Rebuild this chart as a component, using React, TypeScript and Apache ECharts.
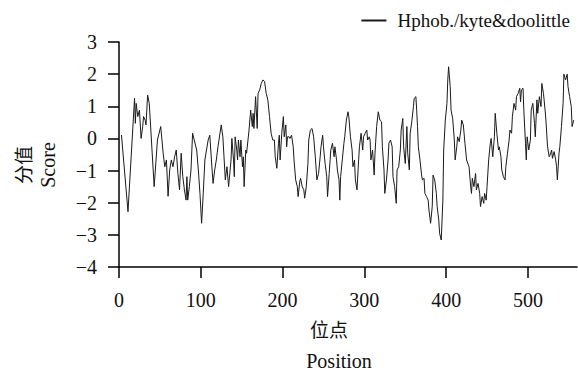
import React, { useEffect, useRef } from "react";
import * as echarts from "echarts";

// Position (residue index) and hydrophobicity score
const positions = [
  3, 11, 19, 20, 21, 23, 25, 27, 29, 30, 32, 33, 35, 37, 43, 47, 51, 54, 56, 58,
  60, 62, 64, 66, 68, 70, 72, 74, 76, 78, 80, 82, 83, 84, 86, 88, 90, 92, 95, 97,
  99, 101, 103, 105, 107, 109, 111, 113, 115, 117, 119, 121, 125, 127, 130, 132, 134, 137, 138, 140,
  141, 142, 144, 145, 146, 148, 149, 151, 152, 153, 155, 156, 159, 161, 163, 164, 165, 167, 169, 170,
  172, 174, 176, 178, 180, 182, 184, 186, 188, 190, 191, 193, 195, 196, 197, 199, 201, 202, 204, 205,
  206, 208, 209, 211, 213, 214, 216, 218, 219, 221, 222, 224, 226, 227, 229, 231, 232, 234, 236, 238,
  240, 242, 244, 246, 247, 249, 250, 252, 254, 255, 257, 259, 261, 263, 264, 266, 267, 269, 270, 271,
  273, 275, 276, 278, 280, 281, 283, 285, 286, 288, 289, 291, 293, 294, 296, 298, 299, 301, 303, 304,
  306, 307, 308, 310, 312, 313, 315, 317, 319, 321, 322, 324, 325, 327, 329, 330, 332, 334, 335, 337,
  339, 340, 342, 344, 345, 347, 348, 350, 352, 353, 355, 356, 358, 360, 361, 363, 364, 365, 366, 368,
  370, 371, 373, 374, 376, 378, 379, 381, 383, 384, 386, 388, 389, 391, 392, 394, 396, 397, 399, 401,
  402, 403, 405, 406, 408, 410, 411, 413, 414, 416, 418, 419, 421, 423, 425, 428, 430, 431, 432, 434,
  436, 437, 439, 441, 442, 444, 446, 447, 449, 450, 452, 454, 455, 457, 459, 460, 462, 464, 465, 467,
  468, 470, 472, 473, 475, 477, 478, 480, 481, 483, 485, 486, 488, 490, 491, 492, 494, 495, 497, 498,
  499, 501, 503, 504, 506, 508, 509, 511, 512, 514, 516, 517, 519, 521, 522, 524, 526, 527, 529, 530,
  532, 534, 535, 536, 538, 539, 541, 543, 544, 546, 548, 549, 551, 553, 554, 556,
];

const scores = [
  0.11, -2.28, 1.25, 0.47, 1.09, 0.68, 0.88, 0.0, 0.37, 0.68, 0.57, 0.42, 1.35, 1.09, -1.5, -0.05, 0.37, -0.46, -0.88, -0.67,
  -1.8, -0.98, -0.67, -0.88, -0.57, -0.36, -1.09, -1.6, -0.46, -1.19, -1.6, -1.92, -1.19, -1.92, -1.5, -0.98, 0.16, -0.05, -0.36, -0.98,
  -1.71, -2.64, -1.71, -0.67, -0.36, -0.05, 0.1, -0.67, -1.4, -0.98, -0.67, -0.26, 0.42, 0.05, -1.29, -0.88, -1.5, -0.67, 0.0, -0.67,
  -1.19, 0.05, -0.36, -0.67, -0.05, -0.57, -0.05, -0.88, -0.57, -1.5, -0.36, -0.46, 0.26, 0.88, 0.37, 0.78, 0.31, 1.3, 0.31, 1.4,
  1.51, 1.71, 1.82, 1.77, 1.4, 1.2, 0.68, 0.16, -0.05, -0.05, -0.57, -0.93, -0.15, 0.1, -0.67, 0.16, 0.68, 0.05, 0.42, -0.26,
  0.05, 0.05, 0.0, 0.1, -0.26, -0.67, -1.29, -1.5, -1.81, -1.35, -1.24, -1.5, -1.6, -1.86, -1.5, -0.78, -0.05, 0.26, 0.31, 0.05,
  -0.57, -1.29, -1.09, -0.57, -0.26, 0.1, -0.26, -0.78, -1.19, -1.81, -1.09, -0.36, -0.15, -0.57, -0.26, -0.67, -0.98, -1.29, -1.92, -1.19,
  -0.67, -0.15, 0.05, 0.57, 0.83, 0.68, 0.05, -0.36, -0.88, -0.67, -1.29, -1.6, -0.67, -0.26, 0.16, -0.36, 0.05, 0.16, 0.26, -0.05,
  0.05, -0.05, -0.67, -0.36, -1.14, -0.46, 0.37, 0.83, 0.57, 0.52, -0.26, -0.98, -1.71, -1.29, -0.67, -0.15, -0.05, -0.26, -1.19, -1.5,
  -2.02, -0.98, -0.88, -0.36, 0.26, 0.62, -0.26, -0.78, 0.37, -0.46, -0.98, 0.16, 0.52, 0.99, 1.25, 1.3, 0.88, 0.37, -0.26, -0.67,
  -1.14, -1.29, -1.24, -1.71, -1.81, -1.92, -2.23, -2.64, -2.12, -1.14, -1.29, -1.71, -2.12, -2.54, -2.95, -3.16, -1.92, -0.36, 0.57, 1.09,
  1.82, 2.23, 1.61, 0.88, 0.62, -0.05, -0.67, -0.26, 0.05, -0.1, 0.26, 0.57, 0.42, -0.15, -0.67, -0.88, -1.5, -1.71, -1.24, -1.5,
  -1.09, -1.6, -1.4, -1.71, -2.12, -1.81, -2.02, -1.71, -1.92, -1.5, -0.67, -0.15, 0.0, -0.57, 0.05, 0.78, 0.16, -0.36, -0.26, -0.57,
  -0.98, -1.19, -1.29, -0.88, -0.46, -0.05, 0.26, 0.16, 0.68, 1.09, 0.88, 1.3, 1.4, 1.56, 1.14, 1.51, 1.56, 0.88, -0.15, -0.67,
  0.05, -0.36, -0.05, 0.88, 1.09, 0.47, 0.05, 1.2, 0.78, 1.3, 0.99, 1.71, 1.4, 0.88, 0.57, -0.26, -0.57, -0.52, -0.36, -0.62,
  -0.41, -0.67, -0.88, -1.29, -0.46, -0.26, 0.37, 1.09, 2.0, 1.82, 2.0, 1.61, 1.3, 0.99, 0.37, 0.57,
];

const seriesName = "Hphob./kyte&doolittle";
const xTitleCn = "位点";
const xTitleEn = "Position";
const yTitleCn = "分值";
const yTitleEn = "Score";

const serif = "Liberation Serif";
const cjk = "Noto Sans CJK SC";

export default function App() {
  const ref = useRef<HTMLDivElement>(null);

  useEffect(() => {
    document.body.style.margin = "0";
    if (!ref.current) return;
    const chart = echarts.init(ref.current, undefined, { renderer: "svg" });
    const data = positions.map((p, i) => [p, scores[i]]);
    chart.setOption({
      animation: false,
      backgroundColor: "#ffffff",
      grid: { left: 119, right: 1, top: 42, bottom: 101, containLabel: false, outerBoundsMode: "none" },
      legend: {
        right: 3,
        top: 6,
        icon: "rect",
        itemWidth: 25,
        itemHeight: 2,
        textStyle: { fontFamily: serif, fontSize: 19, color: "#111", padding: [0, 0, 0, 6] },
        data: [seriesName],
      },
      xAxis: {
        type: "value",
        min: 0,
        max: 560,
        interval: 100,
        axisLine: { onZero: false, lineStyle: { color: "#000", width: 1.5 } },
        axisTick: { inside: false, length: 11, lineStyle: { color: "#000", width: 1.5 } },
        axisLabel: {
          margin: 23,
          fontFamily: serif,
          fontSize: 20,
          color: "#111",
          showMaxLabel: false,
        },
        splitLine: { show: false },
      },
      yAxis: {
        type: "value",
        min: -4,
        max: 3,
        interval: 1,
        axisLine: { show: true, onZero: false, lineStyle: { color: "#000", width: 1.5 } },
        axisTick: { show: true, inside: false, length: 11, lineStyle: { color: "#000", width: 1.5 } },
        axisLabel: {
          margin: 22,
          fontFamily: serif,
          fontSize: 20,
          color: "#111",
          formatter: (v: number) => String(v).replace("-", "\u2212"),
        },
        splitLine: { show: false },
      },
      series: [
        {
          name: seriesName,
          type: "line",
          data,
          showSymbol: false,
          symbol: "none",
          lineStyle: { color: "#1a1a1a", width: 1 },
          itemStyle: { color: "#1a1a1a" },
        },
      ],
      graphic: [
        {
          type: "text",
          x: 22,
          y: 165,
          rotation: Math.PI / 2,
          style: { text: yTitleCn, fontFamily: cjk, fontSize: 19, fill: "#111", align: "center", verticalAlign: "middle" },
        },
        {
          type: "text",
          x: 48,
          y: 165,
          rotation: Math.PI / 2,
          style: { text: yTitleEn, fontFamily: serif, fontSize: 20, fill: "#111", align: "center", verticalAlign: "middle" },
        },
        {
          type: "text",
          x: 329,
          y: 328,
          style: { text: xTitleCn, fontFamily: cjk, fontSize: 19, fill: "#111", align: "center", verticalAlign: "middle" },
        },
        {
          type: "text",
          x: 339,
          y: 361,
          style: { text: xTitleEn, fontFamily: serif, fontSize: 20, fill: "#111", align: "center", verticalAlign: "middle" },
        },
      ],
    });
    return () => chart.dispose();
  }, []);

  return <div ref={ref} style={{ width: 578, height: 368 }} />;
}
